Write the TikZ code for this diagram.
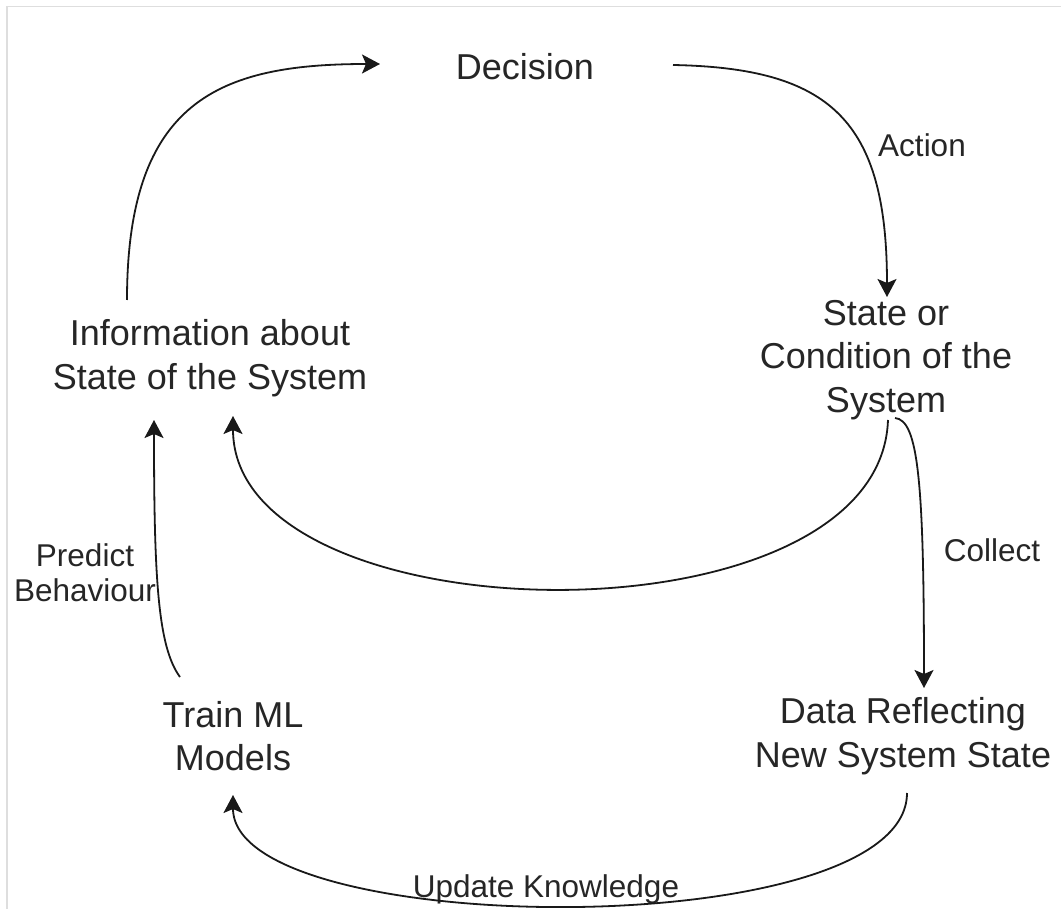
\documentclass[tikz,border=0pt]{standalone}
\usepackage{fontspec}
\setmainfont{Liberation Sans}
\usetikzlibrary{arrows.meta}
\begin{document}
\begin{tikzpicture}[x=1pt,y=-1pt,
  main/.style={align=center,inner sep=0pt,text=black!85,font=\fontsize{36}{43.5}\selectfont},
  lbl/.style={align=center,inner sep=0pt,text=black!85,font=\fontsize{31.5}{35}\selectfont},
  conn/.style={line width=1.8pt,draw=black!90,-{Stealth[length=18pt,width=19pt,inset=4pt]}}]
\useasboundingbox (0,0) rectangle (1061,909);
\fill[white] (0,0) rectangle (1061,909);
\draw[black!13,line width=1.6pt] (7,909) -- (7,6.5) -- (1061,6.5);

\node[main] (dec) at (525,67) {Decision};
\node[main] (info) at (210,358) {Information about\\State of the System};
\node[main] (state) at (886,360) {State or\\Condition of the\\System};
\node[main] (data) at (903,736) {Data Reflecting\\New System State};
\node[main] (train) at (233,736) {Train ML\\Models};

\node[lbl] (action) at (922,145) {Action};
\node[lbl] (collect) at (992,550) {Collect};
\node[lbl] (predict) at (85,573) {Predict\\Behaviour};
\node[lbl] (update) at (546,889) {Update Knowledge};

\draw[conn] ([shift={(-83,-58)}]info.center) .. controls +(0,-200) and +(-160,0) .. ([shift={(-145,-3)}]dec.center);
\draw[conn] ([shift={(148,-2)}]dec.center) .. controls +(157,3) and +(0,-177) .. ([shift={(1,-63)}]state.center);
\draw[conn] ([shift={(2,60)}]state.center) .. controls +(-8,230) and +(0,224) .. ([shift={(23,58)}]info.center);
\draw[conn] ([shift={(9,58)}]state.center) .. controls +(23,2) and +(0,-208) .. ([shift={(21,-48)}]data.center);
\draw[conn] ([shift={(-53,-59)}]train.center) .. controls +(-22,-30) and +(0,160) .. ([shift={(-56,62)}]info.center);
\draw[conn] ([shift={(4,57)}]data.center) .. controls +(0,152) and +(0,145) .. ([shift={(0,59)}]train.center);
\end{tikzpicture}
\end{document}
